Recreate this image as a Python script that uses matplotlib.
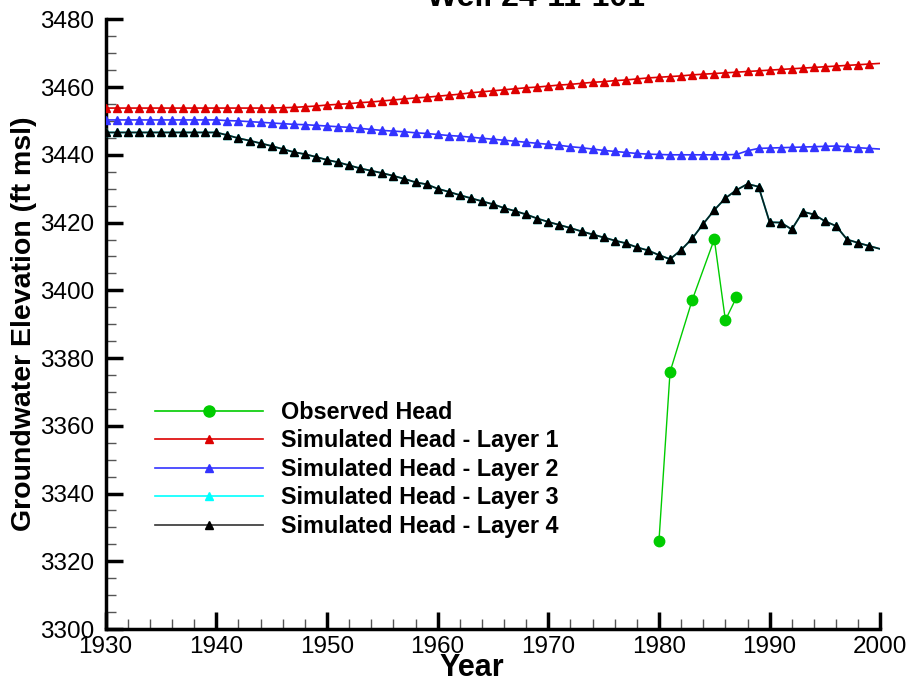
import matplotlib
matplotlib.use("Agg")
import matplotlib.pyplot as plt
from matplotlib.ticker import MultipleLocator

plt.rcParams['font.family'] = ['Liberation Sans', 'DejaVu Sans']

years = list(range(1930, 2001))

layer1 = [3453.8] * 16 + [
    3453.9, 3454.0, 3454.2, 3454.4, 3454.7, 3454.9, 3455.1, 3455.4, 3455.6, 3455.9,
    3456.2, 3456.5, 3456.8, 3457.0, 3457.3, 3457.6, 3457.9, 3458.3, 3458.6, 3458.9,
    3459.2, 3459.5, 3459.8, 3460.0, 3460.3, 3460.6, 3460.8, 3461.1, 3461.4, 3461.6,
    3461.9, 3462.1, 3462.4, 3462.7, 3462.9, 3463.1, 3463.3, 3463.6, 3463.8, 3464.0,
    3464.2, 3464.4, 3464.6, 3464.8, 3465.0, 3465.2, 3465.4, 3465.6, 3465.8, 3466.0,
    3466.2, 3466.4, 3466.6, 3466.8, 3467.0]

layer2 = [3450.3] * 11 + [
    3450.1, 3450.0, 3449.8, 3449.6, 3449.4, 3449.2, 3449.0, 3448.9, 3448.7, 3448.5,
    3448.3, 3448.1, 3447.8, 3447.5, 3447.2, 3447.0, 3446.8, 3446.5, 3446.3, 3446.0,
    3445.7, 3445.5, 3445.2, 3444.9, 3444.6, 3444.3, 3444.0, 3443.7, 3443.4, 3443.1,
    3442.8, 3442.4, 3442.1, 3441.7, 3441.3, 3441.0, 3440.7, 3440.4, 3440.2, 3440.1,
    3440.0, 3440.0, 3440.0, 3440.0, 3440.0, 3440.0, 3440.1, 3441.2, 3441.9, 3442.0,
    3442.1, 3442.2, 3442.3, 3442.4, 3442.5, 3442.6, 3442.4, 3442.1, 3441.9, 3441.7]

layer4 = [3446.6] * 11 + [
    3445.8, 3444.9, 3444.2, 3443.4, 3442.6, 3441.7, 3440.8, 3440.2, 3439.4, 3438.5,
    3437.8, 3436.9, 3436.0, 3435.3, 3434.6, 3433.8, 3432.9, 3431.9, 3431.3, 3430.0,
    3429.1, 3428.1, 3427.2, 3426.3, 3425.4, 3424.3, 3423.4, 3422.4, 3421.2, 3420.2,
    3419.3, 3418.4, 3417.4, 3416.5, 3415.6, 3414.7, 3413.9, 3412.7, 3411.8, 3410.4,
    3409.2, 3411.9, 3415.3, 3419.6, 3423.7, 3427.2, 3429.6, 3431.4, 3430.6, 3420.1,
    3420.0, 3418.0, 3423.2, 3422.4, 3420.4, 3419.0, 3415.0, 3414.0, 3413.1, 3412.2]

layer3 = [3446.6] * 11 + [
    3445.8, 3444.9, 3444.2, 3443.4, 3442.6, 3441.7, 3440.8, 3440.2, 3439.4, 3438.5,
    3437.8, 3436.9, 3436.0, 3435.3, 3434.6, 3433.8, 3432.9, 3431.9, 3431.3, 3430.0,
    3429.1, 3428.1, 3427.2, 3426.3, 3425.4, 3424.3, 3423.4, 3422.4, 3421.2, 3420.2,
    3419.3, 3418.4, 3417.4, 3416.5, 3415.6, 3414.7, 3413.9, 3412.7, 3411.8, 3410.4,
    3409.2, 3411.9, 3415.3, 3419.6, 3423.7, 3427.2, 3429.6, 3431.4, 3430.6, 3420.1,
    3420.0, 3418.0, 3423.2, 3422.4, 3420.4, 3419.0, 3415.0, 3414.0, 3413.1, 3412.2]

obs_years = [1980, 1981, 1983, 1985, 1986, 1987]
obs_head = [3326.1, 3375.9, 3397.1, 3415.1, 3391.2, 3397.9]

labels = ["Observed Head", "Simulated Head - Layer 1", "Simulated Head - Layer 2",
          "Simulated Head - Layer 3", "Simulated Head - Layer 4"]
title = "Well 24-11-101"

fig = plt.figure(figsize=(9.13, 6.83), dpi=100)
ax = fig.add_axes([0.1157, 0.079, 0.8485, 0.8927])

mk = slice(0, len(years) - 1)
ax.plot(obs_years, obs_head, color='#00CC00', lw=1.0, marker='o', ms=7.5,
        mec='#00CC00', mfc='#00CC00', label=labels[0], zorder=6)
ax.plot(years, layer1, color='#DD0000', lw=1.2, marker='^', ms=6, markevery=mk,
        label=labels[1], zorder=4)
ax.plot(years, layer2, color='#3333FF', lw=1.2, marker='^', ms=6, markevery=mk,
        label=labels[2], zorder=4)
ax.plot(years, layer3, color='#00FFFF', lw=1.2, marker='^', ms=6, markevery=mk,
        label=labels[3], zorder=3)
ax.plot(years, layer4, color='#0A1F1F', lw=1.3, marker='^', ms=6, mfc='black',
        mec='black', markevery=mk, label=labels[4], zorder=5)

ax.set_xlim(1930, 2000)
ax.set_ylim(3300, 3480)
ax.xaxis.set_major_locator(MultipleLocator(10))
ax.xaxis.set_minor_locator(MultipleLocator(2))
ax.yaxis.set_major_locator(MultipleLocator(20))
ax.yaxis.set_minor_locator(MultipleLocator(5))

for s in ['top', 'right']:
    ax.spines[s].set_visible(False)
for s in ['left', 'bottom']:
    ax.spines[s].set_linewidth(2.5)

ax.tick_params(which='major', direction='in', length=12, width=2.5,
               labelsize=17.5, pad=5, color='black')
ax.tick_params(which='minor', direction='in', length=7, width=1.0, color='#555555')
ax.tick_params(axis='y', which='major', pad=8)

ax.set_xlabel("Year", fontsize=22, fontweight='bold')
ax.xaxis.set_label_coords(0.472, -0.040)
ax.set_ylabel("Groundwater Elevation (ft msl)", fontsize=20.5, fontweight='bold')
ax.yaxis.set_label_coords(-0.0886, 0.5)

leg = ax.legend(loc='upper left', bbox_to_anchor=(0.064, 0.374), frameon=False,
                prop={'weight': 'bold', 'size': 16.8}, handlelength=4.6,
                handletextpad=0.8, labelspacing=0.235, borderpad=0, borderaxespad=0)
for h in leg.legend_handles:
    h.set_linewidth(1.2)
leg.legend_handles[0].set_markersize(8)
for h in leg.legend_handles[1:]:
    h.set_markersize(6)
leg.legend_handles[4].set_color('#333333')
leg.legend_handles[4].set_markerfacecolor('black')

fig.text(0.587, 0.991, title, ha='center', va='baseline', fontsize=23,
         fontweight='bold')

fig.savefig("out.png", dpi=100)
